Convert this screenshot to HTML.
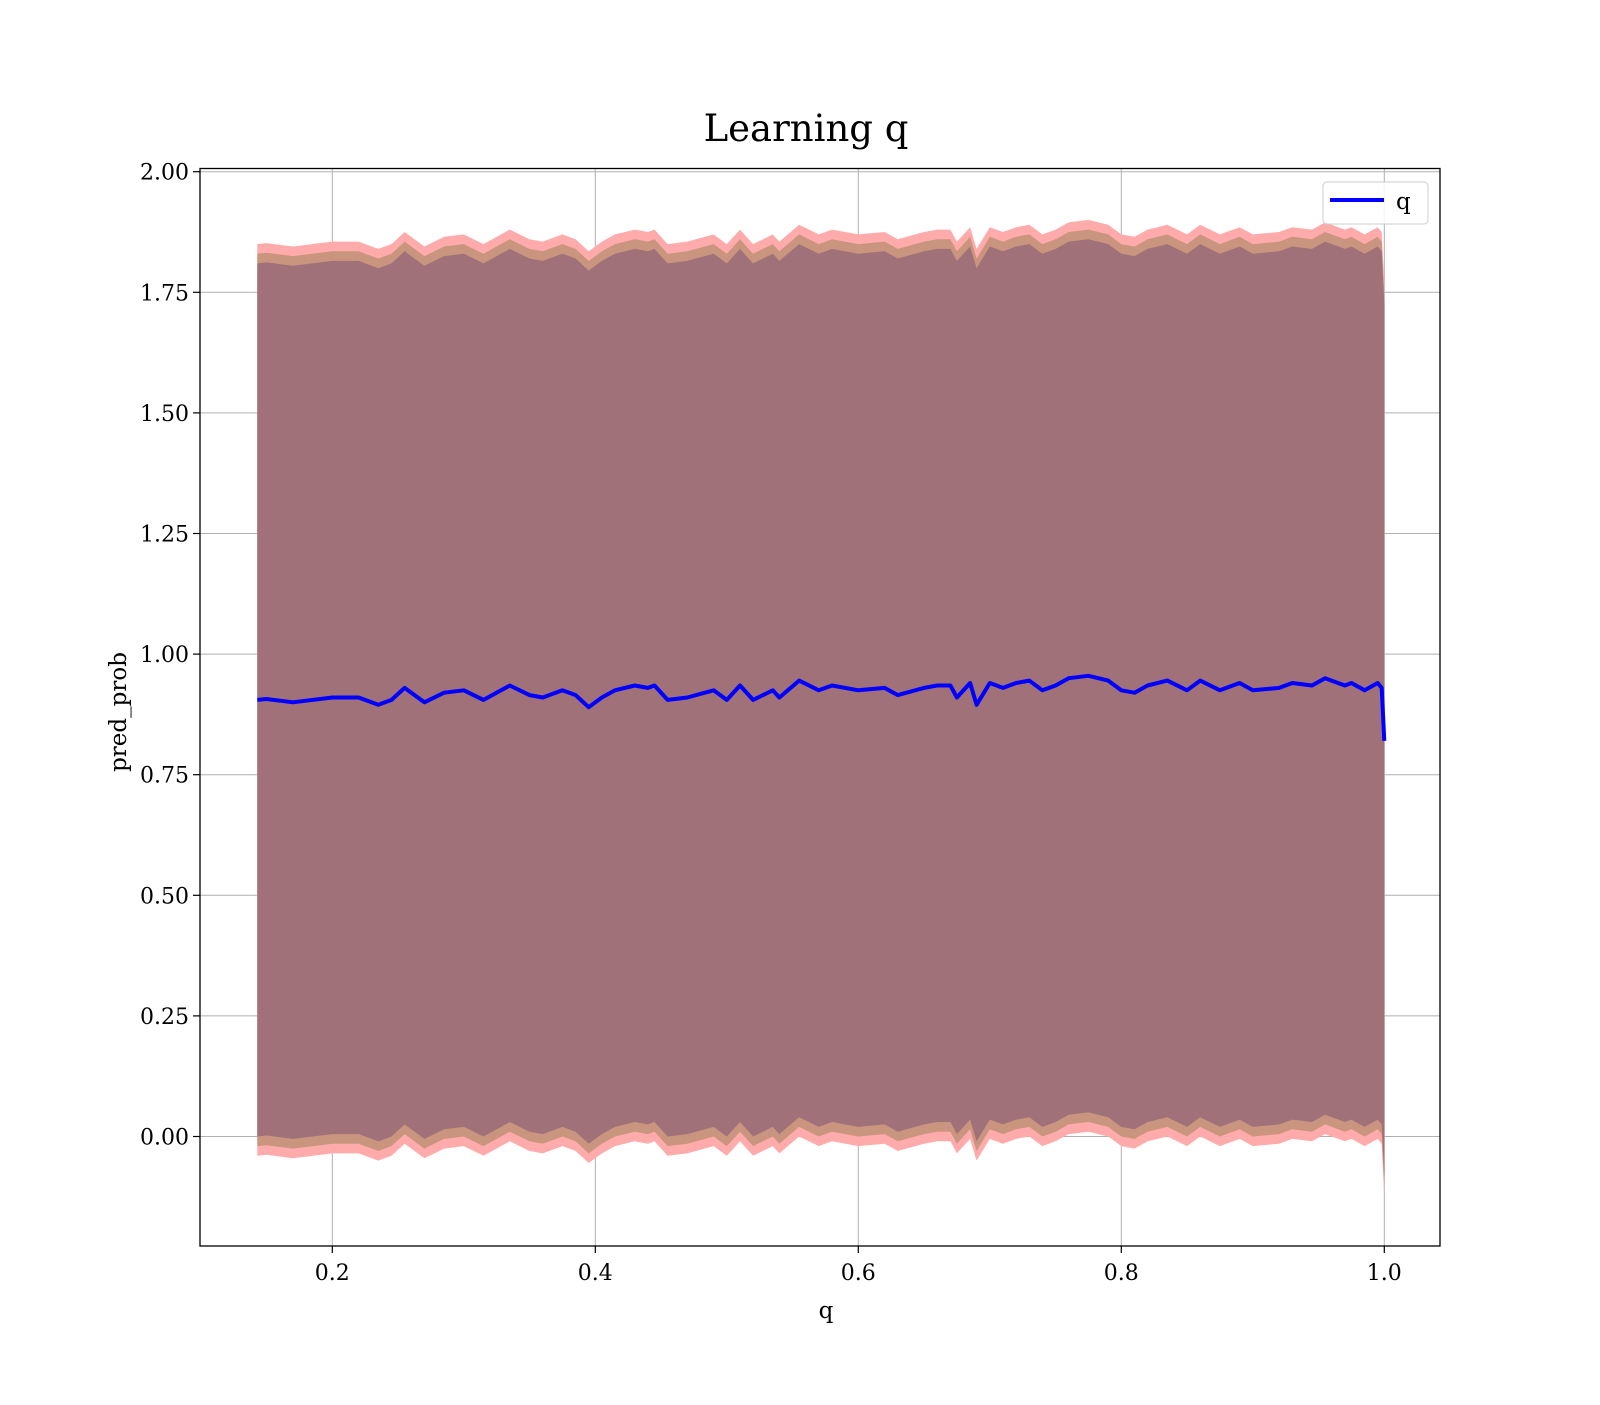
<!DOCTYPE html>
<html><head><meta charset="utf-8"><style>
html,body{margin:0;padding:0;background:#fff;}
svg text{font-family:"DejaVu Serif","Liberation Serif",serif;fill:#000;}
</style></head><body>
<svg id="chart" width="1600" height="1400" xmlns="http://www.w3.org/2000/svg">
<rect width="1600" height="1400" fill="#fff"/>
<text x="806" y="141" font-size="37" text-anchor="middle">Learning q</text>
<g id="grid"></g>
<g id="bands"></g>
<g id="series"></g>
<rect x="200" y="168.5" width="1240" height="1077.5" fill="none" stroke="#000" stroke-width="1.3"/>
<g id="ticks"></g>
<text x="826" y="1318" font-size="23" text-anchor="middle">q</text>
<text transform="translate(126,712) rotate(-90)" font-size="23" text-anchor="middle">pred_prob</text>
<g>
<rect x="1323" y="182" width="105" height="42" rx="4" fill="#fff" fill-opacity="0.85" stroke="#ccc"/>
<line x1="1330" y1="200" x2="1384" y2="200" stroke="#0000ff" stroke-width="4"/>
<text x="1396" y="209" font-size="23">q</text>
</g>
</svg>
<script>
const xs=[0.143,0.15,0.17,0.2,0.22,0.235,0.245,0.255,0.27,0.285,0.3,0.315,0.335,0.35,0.36,0.375,0.385,0.395,0.405,0.415,0.43,0.44,0.445,0.455,0.47,0.49,0.5,0.51,0.52,0.535,0.54,0.555,0.57,0.58,0.6,0.62,0.63,0.65,0.66,0.67,0.675,0.685,0.69,0.70,0.71,0.72,0.73,0.74,0.75,0.76,0.775,0.79,0.80,0.81,0.82,0.835,0.85,0.86,0.875,0.89,0.90,0.92,0.93,0.945,0.955,0.97,0.975,0.985,0.995,0.998,1.0];
const meanVals=[0.905,0.907,0.90,0.91,0.91,0.895,0.905,0.93,0.90,0.92,0.925,0.905,0.935,0.915,0.91,0.925,0.915,0.89,0.91,0.925,0.935,0.93,0.935,0.905,0.91,0.925,0.905,0.935,0.905,0.925,0.91,0.945,0.925,0.935,0.925,0.93,0.915,0.93,0.935,0.935,0.91,0.94,0.895,0.94,0.93,0.94,0.945,0.925,0.935,0.95,0.955,0.945,0.925,0.92,0.935,0.945,0.925,0.945,0.925,0.94,0.925,0.93,0.94,0.935,0.95,0.935,0.94,0.925,0.94,0.93,0.82];
const bandWidths=[0.945,0.925,0.905];
const bandColors=["#ffabab","#c9957f","#a17179"];
const xTicks=[0.2,0.4,0.6,0.8,1.0];
const xTickLabels=["0.2","0.4","0.6","0.8","1.0"];
const yTicks=[0,0.25,0.5,0.75,1.0,1.25,1.5,1.75,2.0];
const yTickLabels=["0.00","0.25","0.50","0.75","1.00","1.25","1.50","1.75","2.00"];
const NS="http://www.w3.org/2000/svg";
function X(v){return 332.3+(v-0.2)*1315;}
function Y(v){return 1136.5-v*482.4;}
const grid=document.getElementById('grid'),ticks=document.getElementById('ticks'),bands=document.getElementById('bands'),series=document.getElementById('series');
function mk(tag,attrs,parent){const e=document.createElementNS(NS,tag);for(const k in attrs)e.setAttribute(k,attrs[k]);parent.appendChild(e);return e;}
xTicks.forEach((t,i)=>{
 const g=mk('line',{x1:X(t),x2:X(t),y1:168.5,y2:1246,stroke:'#b0b0b0','stroke-width':1},grid);
 
 
 const tk=mk('line',{x1:X(t),x2:X(t),y1:1246,y2:1253,stroke:'#000','stroke-width':1.2},ticks);
 
 
 const tx=mk('text',{x:X(t),y:1280,'font-size':22,'text-anchor':'middle'},ticks);
 tx.textContent=xTickLabels[i];
 
 
});
yTicks.forEach((t,i)=>{
 const g=mk('line',{x1:200,x2:1440,y1:Y(t),y2:Y(t),stroke:'#b0b0b0','stroke-width':1},grid);
 
 
 const tk=mk('line',{x1:193,x2:200,y1:Y(t),y2:Y(t),stroke:'#000','stroke-width':1.2},ticks);
 
 
 const tx=mk('text',{x:189,y:Y(t)+8,'font-size':22,'text-anchor':'end'},ticks);
 tx.textContent=yTickLabels[i];
 
 
});
bandWidths.forEach((w,bi)=>{
 let top=xs.map((x,i)=>X(x).toFixed(1)+','+Y(meanVals[i]+w).toFixed(1));
 let bot=xs.map((x,i)=>X(x).toFixed(1)+','+Y(meanVals[i]-w).toFixed(1)).reverse();
 const p=mk('polygon',{points:top.concat(bot).join(' '),fill:bandColors[bi]},bands);
 
 
});
const pl=mk('polyline',{points:xs.map((x,i)=>X(x).toFixed(1)+','+Y(meanVals[i]).toFixed(1)).join(' '),fill:'none',stroke:'#0000ff','stroke-width':4,'stroke-linejoin':'round'},series);


</script>
</body></html>
